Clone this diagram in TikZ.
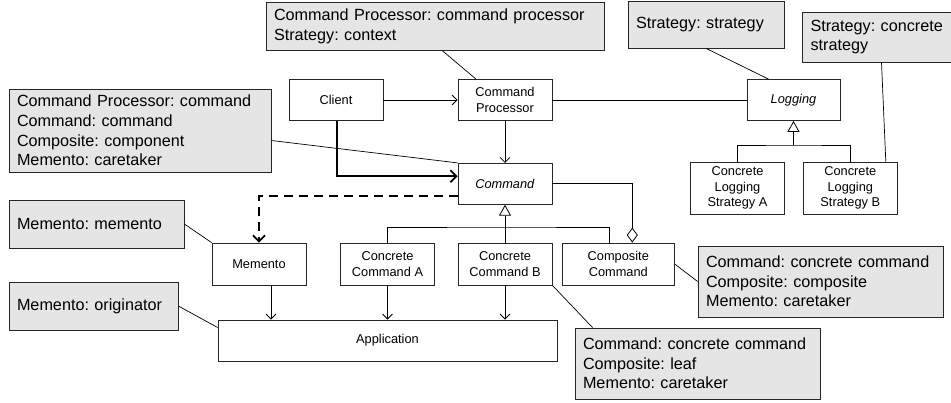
\documentclass[tikz,border=0pt]{standalone}
\usepackage{fontspec}
\setmainfont{Liberation Sans}
\usetikzlibrary{arrows.meta,positioning}
\frenchspacing
\hyphenpenalty=10000

\begin{document}
\begin{tikzpicture}[x=1pt,y=-1pt,line width=0.8pt]
      \tikzstyle{cls}=[rectangle,draw=black!85,fill=white,align=center,inner sep=0pt,
        minimum width=94pt,minimum height=41pt,font=\fontsize{12.8}{15.7}\selectfont]
      \tikzstyle{note}=[rectangle,draw=black!85,fill=black!10,align=left,inner xsep=8pt,
        inner ysep=0pt,font=\fontsize{16.2}{19.7}\selectfont]
      \tikzstyle{uses}=[-{Straight Barb[length=5pt,width=10pt]}]
      \tikzstyle{calls}=[line width=1.8pt,-{Straight Barb[length=6pt,width=12pt]}]
      \tikzstyle{saves}=[line width=1.8pt,dash pattern=on 9pt off 6pt,-{Straight Barb[length=6pt,width=12pt]}]
      \tikzstyle{inherit}=[-{Triangle[open,length=11pt,width=12pt]}]
      \tikzstyle{holds}=[-{Diamond[open,length=15pt,width=11pt]}]
      \tikzstyle{anchorline}=[line width=0.7pt]

      \useasboundingbox (0,0) rectangle (951,402);

      % classes
      \node[cls](client) at (336,100){Client};
      \node[cls](cp) at (505,100){Command\\Processor};
      \node[cls,minimum width=93pt](logging) at (793.5,100){\textit{Logging}};
      \node[cls](cmd)[below=42pt of cp]{\textit{Command}};

      \node[cls,minimum height=52pt](loga) at (737.5,188){Concrete\\Logging\\Strategy A};
      \node[cls,minimum height=52pt](logb)[right=18pt of loga]{Concrete\\Logging\\Strategy B};

      \node[cls,minimum height=42pt](memento) at (259,264){Memento};
      \node[cls,minimum height=42pt](cca) at (387.5,264){Concrete\\Command A};
      \node[cls,minimum height=42pt](ccb) at (505,264){Concrete\\Command B};
      \node[cls,minimum height=42pt,minimum width=112pt](comp) at (618.3,264){Composite\\Command};
      \node[cls,minimum width=339pt](app) at (387.5,340.5){Application};

      % notes
      \node[note,text width=322pt,minimum height=48pt](cpnote) at (435,26)
        {Command Processor: command processor\\Strategy: context};
      \node[note,text width=140pt,minimum height=47pt](stratnote) at (706,24.5)
        {Strategy: strategy};
      \node[note,text width=134pt,minimum height=50pt](concnote) at (877.5,37)
        {Strategy: concrete\\strategy};
      \node[note,text width=246pt,minimum height=83pt](cmdnote) at (140,130.5)
        {Command Processor: command\\Command: command\\Composite: component\\Memento: caretaker};
      \node[note,text width=159pt,minimum height=48pt](memnote) at (96.5,224)
        {Memento: memento};
      \node[note,text width=153pt,minimum height=48pt](orignote) at (93.5,306)
        {Memento: originator};
      \node[note,text width=229pt,minimum height=71pt](compnote) at (820.5,281.5)
        {Command: concrete command\\Composite: composite\\Memento: caretaker};
      \node[note,text width=229pt,minimum height=71pt](leafnote) at (697.5,363.5)
        {Command: concrete command\\Composite: leaf\\Memento: caretaker};

      % associations
      \path[uses]
      (client) edge (cp)
      (cp) edge (cmd);
      \draw (cp) -- (logging);
      \draw[calls] ([xshift=1pt]client.south) |- ([yshift=7.5pt]cmd.west);
      \draw[saves] ([yshift=-12pt]cmd.west) -| (memento.north);

      \draw[uses] ([xshift=12pt]memento.south) -- ([xshift=12pt]memento.south |- app.north);
      \draw[uses] (cca.south) -- (cca.south |- app.north);
      \draw[uses] (ccb.south) -- (ccb.south |- app.north);

      % generalisation
      \coordinate (logbus) at (793.5,145);
      \draw[inherit] (logbus) -- (logging.south);
      \draw (loga.north) |- (logbus) -| (logb.north);

      \coordinate (cmdbus) at (505,227);
      \draw[inherit] (ccb.north) -- (cmd.south);
      \draw (cca.north) |- (cmdbus) -| ([xshift=-9pt]comp.north);
      \draw[holds] (cmd.east) -| ([xshift=14pt]comp.north);

      % note anchors
      \path[anchorline]
      ([xshift=7pt]cpnote.south) edge ([xshift=-29pt]cp.north)
      (stratnote.south) edge ([xshift=-25pt]logging.north)
      ([xshift=4pt]concnote.south) edge ([xshift=35.5pt]logb.north)
      ([yshift=-10pt]cmdnote.east) edge (cmd.north west)
      (memnote.east) edge (memento.north west)
      (orignote.east) edge ([yshift=13pt]app.west)
      (comp.east) edge (compnote.west)
      (ccb.south east) edge ([xshift=18pt]leafnote.north west);
\end{tikzpicture}
\end{document}
